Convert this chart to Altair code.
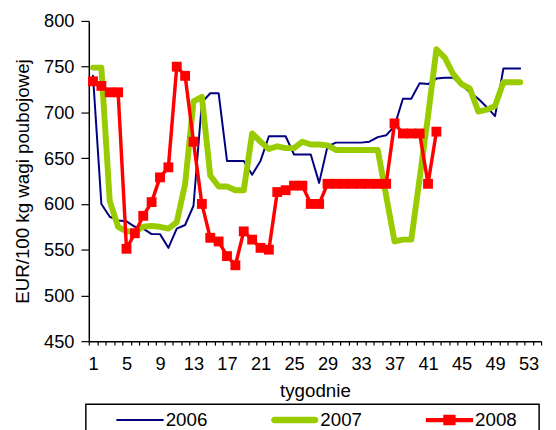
import altair as alt
import pandas as pd

years = ["2006", "2007", "2008"]
colors = ["#000080", "#99CC00", "#FF0000"]
line_widths = [2, 6, 3.5]

weeks_2006 = list(range(1, 53))
values_2006 = [740, 600, 586, 582, 581, 575, 573, 567, 567, 552,
               573, 577, 598, 711, 721, 721, 647, 647, 647, 632,
               647, 674, 674, 674, 654, 654, 654, 623, 663, 667,
               667, 667, 667, 668, 673, 675, 685, 715, 715, 732,
               731, 737, 738, 738, 730, 722, 715, 706, 696, 748,
               748, 748]

weeks_2007 = list(range(1, 53))
values_2007 = [749, 749, 603, 575, 570, 570, 575, 576, 575, 573,
               580, 622, 712, 717, 631, 619, 619, 615, 615, 677,
               668, 660, 663, 661, 661, 668, 665, 665, 664, 659,
               659, 659, 659, 659, 659, 609, 559, 561, 561, 628,
               696, 769, 760, 742, 731, 726, 701, 703, 707, 733,
               733, 733]

weeks_2008 = list(range(1, 43))
values_2008 = [734, 729, 722, 722, 551, 568, 587, 602, 629, 640,
               750, 740, 668, 600, 563, 559, 543, 533, 570, 561,
               552, 550, 613, 615, 620, 620, 600, 600, 622, 622,
               622, 622, 622, 622, 622, 622, 688, 677, 677, 677,
               622, 679]

x_tick_values = [w + 0.5 for w in range(0, 55)]
y_tick_values = [450, 500, 550, 600, 650, 700, 750, 800]

legend_paths = [
    "M-1,-0.042L1,-0.042L1,0.042L-1,0.042Z",
    "M-0.86,-0.14L0.86,-0.14A0.14,0.14 0 0 1 0.86,0.14L-0.86,0.14A0.14,0.14 0 0 1 -0.86,-0.14Z",
    "M-1,-0.09L-0.26,-0.09L-0.26,-0.22L0.26,-0.22L0.26,-0.09L1,-0.09L1,0.09L0.26,0.09L0.26,0.22L-0.26,0.22L-0.26,0.09L-1,0.09Z",
]

rows = []
for yr, wk, vals in [("2006", weeks_2006, values_2006),
                     ("2007", weeks_2007, values_2007),
                     ("2008", weeks_2008, values_2008)]:
    for w, v in zip(wk, vals):
        rows.append({"year": yr, "week": w, "value": v})
df = pd.DataFrame(rows)

FONT = "Liberation Sans"

x_enc = alt.X(
    "week:Q",
    scale=alt.Scale(domain=[0.5, 54.5], nice=False, zero=False),
    axis=alt.Axis(
        values=x_tick_values,
        labelExpr="(datum.value - 0.5) % 4 == 0 ? '' + (datum.value + 0.5) : ''",
        labelOffset=4.25,
        tickSize=4,
        labelPadding=10,
        labelFlush=False,
        labelOverlap=False,
        labelBound=False,
        grid=False,
        title="tygodnie",
        titlePadding=9,
    ),
)
y_enc = alt.Y(
    "value:Q",
    scale=alt.Scale(domain=[450, 800], nice=False, zero=False),
    axis=alt.Axis(
        values=y_tick_values,
        tickSize=8,
        labelPadding=7,
        grid=False,
        title="EUR/100 kg wagi poubojowej",
        titlePadding=11,
    ),
)

color_scale = alt.Scale(domain=years, range=colors)

line_layers = []
for yr, col, lw in zip(years, colors, line_widths):
    line_layers.append(
        alt.Chart(df).transform_filter(f"datum.year == '{yr}'").mark_line(
            color=col, strokeWidth=lw, strokeJoin="round", strokeCap="round"
        ).encode(x=x_enc, y=y_enc)
    )

squares = alt.Chart(df).transform_filter("datum.year == '2008'").mark_square(
    size=100, color="#FF0000", opacity=1
).encode(x=x_enc, y=y_enc)

leg = alt.Legend(
    title=None,
    orient="none",
    legendX=28,
    legendY=381,
    direction="horizontal",
    columns=3,
    columnPadding=63,
    gridAlign="all",
    symbolSize=2304,
    symbolStrokeWidth=0,
    symbolOpacity=1,
    labelOffset=2,
    labelFont=FONT,
    labelFontSize=19,
    labelColor="black",
    padding=0,
)

legend_layer = alt.Chart(df).transform_filter("datum.week < 0").mark_point(
    filled=True, opacity=1, size=2304
).encode(
    x=x_enc,
    y=y_enc,
    color=alt.Color("year:N", scale=color_scale, legend=leg),
    shape=alt.Shape("year:N", scale=alt.Scale(domain=years, range=legend_paths), legend=leg),
)

legend_box = alt.Chart(pd.DataFrame({"k": [0]})).mark_rect(
    fill="white", fillOpacity=0, stroke="black", strokeWidth=1.5
).encode(
    x=alt.value(-3), x2=alt.value(457), y=alt.value(389), y2=alt.value(440)
)

chart = alt.layer(legend_box, *line_layers, squares, legend_layer).properties(
    width=459,
    height=325,
    padding={"left": 82, "top": 10, "right": 7, "bottom": 87},
    autosize=alt.AutoSizeParams(type="none"),
).configure_axis(
    labelFont=FONT,
    titleFont=FONT,
    labelFontSize=18.5,
    titleFontSize=19,
    titleFontWeight="normal",
    labelColor="black",
    titleColor="black",
    domainColor="black",
    tickColor="black",
    domainWidth=1.5,
    tickWidth=1.2,
).configure_view(stroke=None)

chart.save("out.html", embed_options={"renderer": "svg", "actions": False})
